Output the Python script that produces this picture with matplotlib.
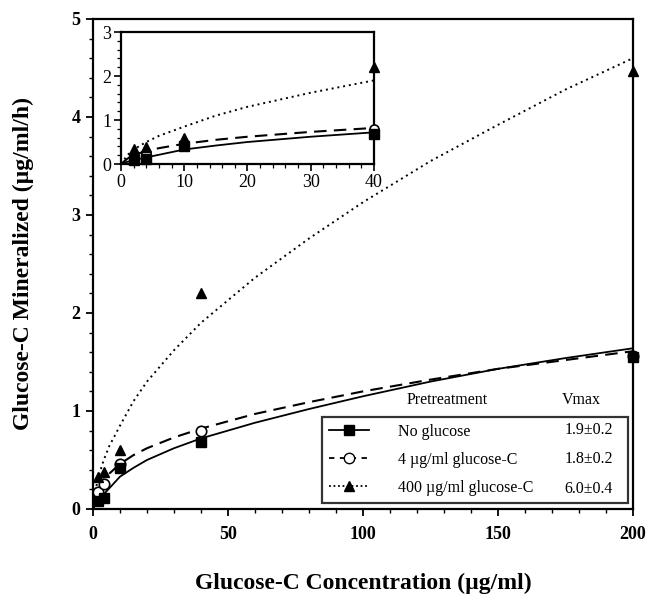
import matplotlib
matplotlib.use("Agg")
import matplotlib.pyplot as plt
from matplotlib.ticker import MultipleLocator
from matplotlib.lines import Line2D

plt.rcParams["font.family"] = ["Liberation Serif", "DejaVu Serif"]

# measured points
conc = [2, 4, 10, 40, 200]
no_glucose = [0.08, 0.11, 0.42, 0.68, 1.55]
glc_4 = [0.17, 0.26, 0.46, 0.80, 1.56]
glc_400 = [0.33, 0.38, 0.60, 2.20, 4.47]

# fitted curves
fit_x = [0, 1, 2, 4, 6, 10, 15, 20, 30, 40, 60, 80, 100, 125, 150, 175, 200]
fit_none = [0, 0.05, 0.09, 0.15, 0.21, 0.33, 0.42, 0.50, 0.62, 0.72, 0.88, 1.02, 1.15, 1.30, 1.43, 1.54, 1.64]
fit_4 = [0, 0.12, 0.20, 0.30, 0.36, 0.46, 0.55, 0.62, 0.73, 0.82, 0.97, 1.09, 1.20, 1.32, 1.43, 1.52, 1.61]
fit_400 = [0, 0.2, 0.33, 0.50, 0.64, 0.85, 1.10, 1.30, 1.62, 1.90, 2.36, 2.76, 3.13, 3.55, 3.92, 4.28, 4.60]

labels = ["No glucose", "4 \u00b5g/ml glucose-C", "400 \u00b5g/ml glucose-C"]
vmax = ["1.9\u00b10.2", "1.8\u00b10.2", "6.0\u00b10.4"]

fig = plt.figure(figsize=(6.48, 6.05), dpi=100)
ax = fig.add_axes([0.1435, 0.1587, 0.8333, 0.8099])

dash = (0, (6, 3.5))
dot = (0, (1, 2))

def draw(a, ms):
    a.plot(fit_x, fit_none, color="black", lw=1.3, ls="-")
    a.plot(fit_x, fit_4, color="black", lw=1.5, ls=dash)
    a.plot(fit_x, fit_400, color="black", lw=1.4, ls=dot)
    a.plot(conc, glc_4, "o", mfc="white", mec="black", mew=1.2, ms=ms, clip_on=False, zorder=5)
    a.plot(conc, no_glucose, "s", color="black", ms=ms, clip_on=False, zorder=6)
    a.plot(conc, glc_400, "^", color="black", ms=ms, clip_on=False, zorder=6)

draw(ax, 7.5)
ax.set_xlim(0, 200)
ax.set_ylim(0, 5)
ax.xaxis.set_major_locator(MultipleLocator(50))
ax.xaxis.set_minor_locator(MultipleLocator(10))
ax.yaxis.set_major_locator(MultipleLocator(1))
ax.yaxis.set_minor_locator(MultipleLocator(0.2))
ax.tick_params(which="major", direction="out", length=5, width=1.3, labelsize=13, pad=7)
ax.tick_params(which="minor", direction="out", length=3, width=1)
ax.tick_params(axis="y", which="major", pad=4)
for lab in ax.get_xticklabels() + ax.get_yticklabels():
    lab.set_fontweight("bold")
for s in ax.spines.values():
    s.set_linewidth(1.6)

ax.set_xlabel("Glucose-C Concentration (\u00b5g/ml)", fontsize=17, fontweight="bold", labelpad=22)
ax.set_ylabel("Glucose-C Mineralized (\u00b5g/ml/h)", fontsize=17, fontweight="bold", labelpad=27)

# legend
handles = [
    Line2D([], [], color="black", lw=1.3, ls="-", marker="s", ms=7.5),
    Line2D([], [], color="black", lw=1.3, ls=(0, (3, 3)), marker="o", mfc="white", mec="black", ms=7.5),
    Line2D([], [], color="black", lw=1.3, ls=(0, (1, 1.5)), marker="^", ms=7.5),
]
leg = ax.legend(handles, labels, loc="lower left", bbox_to_anchor=(0.424, 0.012, 0.567, 0.186),
                mode="expand", fontsize=11.5, frameon=True, fancybox=False, edgecolor="black",
                handlelength=2.5, handletextpad=1.8, labelspacing=0.75, borderpad=0.45,
                borderaxespad=0)
leg.get_frame().set_linewidth(1.6)
leg.set_zorder(10)

for i, v in enumerate(vmax):
    ax.text(0.963, 0.161 - i * 0.060, v, transform=ax.transAxes, ha="right", va="center",
            fontsize=11.5, zorder=11)
ax.text(0.656, 0.222, "Pretreatment", transform=ax.transAxes, ha="center", va="center", fontsize=11.5)
ax.text(0.905, 0.222, "Vmax", transform=ax.transAxes, ha="center", va="center", fontsize=11.5)

# inset
ins = fig.add_axes([0.1867, 0.7289, 0.3904, 0.2182])
draw(ins, 6.5)
ins.set_xlim(0, 40)
ins.set_ylim(0, 3)
ins.xaxis.set_major_locator(MultipleLocator(10))
ins.xaxis.set_minor_locator(MultipleLocator(2))
ins.yaxis.set_major_locator(MultipleLocator(1))
ins.yaxis.set_minor_locator(MultipleLocator(0.2))
ins.tick_params(which="major", direction="out", length=5, width=1.2, labelsize=13, pad=2)
ins.tick_params(which="minor", direction="out", length=3, width=0.9)
for s in ins.spines.values():
    s.set_linewidth(1.6)

fig.savefig("out.png", dpi=100)
